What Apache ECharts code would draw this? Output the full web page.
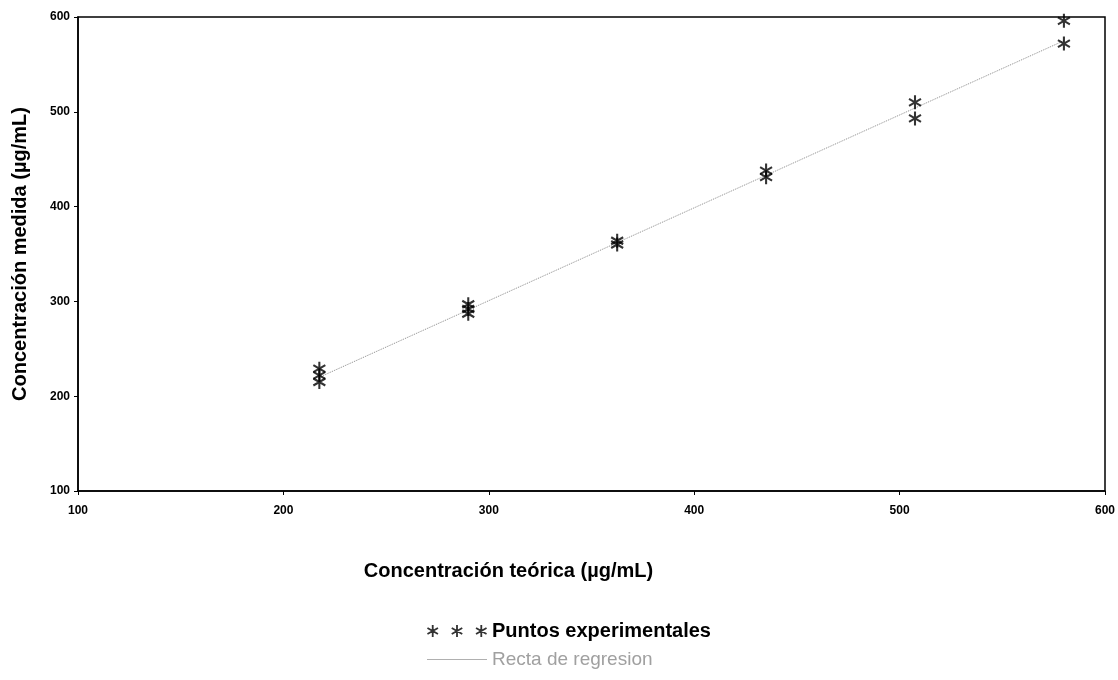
<!DOCTYPE html>
<html>
<head>
<meta charset="utf-8">
<script src="https://cdn.jsdelivr.net/npm/echarts@6/dist/echarts.min.js"></script>
<style>
html,body{margin:0;padding:0;background:#fff;}
#c{width:1118px;height:680px;}
</style>
</head>
<body>
<div id="c"></div>
<script>
// Data
const expX = [217.5, 217.5, 217.5, 290, 290, 290, 362.5, 362.5, 435, 435, 507.5, 507.5, 580, 580];
const expY = [229, 222, 215, 297, 292, 287, 364, 360, 438, 431, 510, 493, 596, 572];
const regX = [217.5, 580];
const regY = [220, 575];
const xTicks = [100, 200, 300, 400, 500, 600];
const yTicks = [100, 200, 300, 400, 500, 600];

function starAt(dx){
  return 'M'+(dx-0.9)+',-6 L'+(dx+0.9)+',-6 L'+(dx+0.9)+',6 L'+(dx-0.9)+',6 Z ' +
    'M'+(dx+5.65)+',2.22 L'+(dx+4.75)+',3.78 L'+(dx-5.65)+',-2.22 L'+(dx-4.75)+',-3.78 Z ' +
    'M'+(dx+4.75)+',-3.78 L'+(dx+5.65)+',-2.22 L'+(dx-4.75)+',3.78 L'+(dx-5.65)+',2.22 Z ';
}
const star = 'path://' + starAt(0);
const legendStars = 'path://' + starAt(0) + starAt(24) + starAt(48);
const legendLine = 'path://M0,0 L60,0 L60,1.2 L0,1.2 Z';

const chart = echarts.init(document.getElementById('c'), null, {renderer:'canvas'});
const font = '"Liberation Sans", Arial, sans-serif';
chart.setOption({
  animation:false,
  backgroundColor:'#fff',
  grid:{left:78, right:13, top:17, bottom:189, show:true, borderColor:'#000', borderWidth:1.5, outerBoundsMode:'none', containLabel:false},
  xAxis:{
    type:'value', min:xTicks[0], max:xTicks[xTicks.length-1], interval:100,
    name:'Concentración teórica (µg/mL)', nameLocation:'middle', nameGap:70,
    nameTextStyle:{fontFamily:font, fontWeight:'bold', fontSize:20, color:'#000', padding:[0,166,0,0]},
    axisLine:{lineStyle:{color:'#000', width:1.5}},
    axisTick:{inside:false, length:4, lineStyle:{color:'#000'}},
    axisLabel:{fontFamily:font, fontWeight:'bold', fontSize:12, color:'#000', margin:14},
    splitLine:{show:false}
  },
  yAxis:{
    type:'value', min:yTicks[0], max:yTicks[yTicks.length-1], interval:100,
    name:'Concentración medida (µg/mL)', nameLocation:'middle', nameGap:48,
    nameTextStyle:{fontFamily:font, fontWeight:'bold', fontSize:20, color:'#000'},
    axisLine:{show:true, lineStyle:{color:'#000', width:1.5}},
    axisTick:{show:true, inside:false, length:4, lineStyle:{color:'#000'}},
    axisLabel:{fontFamily:font, fontWeight:'bold', fontSize:12, color:'#000', margin:8},
    splitLine:{show:false}
  },
  legend:{
    orient:'vertical', left:422, top:616, itemGap:9, itemWidth:60, itemHeight:13,
    data:[
      {name:'Puntos experimentales', icon:legendStars, textStyle:{fontFamily:font, fontWeight:'bold', fontSize:20, color:'#000'}},
      {name:'Recta de regresion', icon:legendLine, textStyle:{fontFamily:font, fontSize:19, color:'#a0a0a0'}}
    ]
  },
  series:[
    {
      name:'Recta de regresion', type:'line', symbol:'none', z:1,
      data: regX.map((x,i)=>[x, regY[i]]),
      lineStyle:{color:'#8a8a8a', width:1, type:'dotted'},
      itemStyle:{color:'#b0b0b0'}
    },
    {
      name:'Puntos experimentales', type:'scatter', symbol:star, symbolSize:[13,14], z:3,
      data: expX.map((x,i)=>[x, expY[i]]),
      itemStyle:{color:'#000'}
    }
  ]
});
</script>
</body>
</html>
